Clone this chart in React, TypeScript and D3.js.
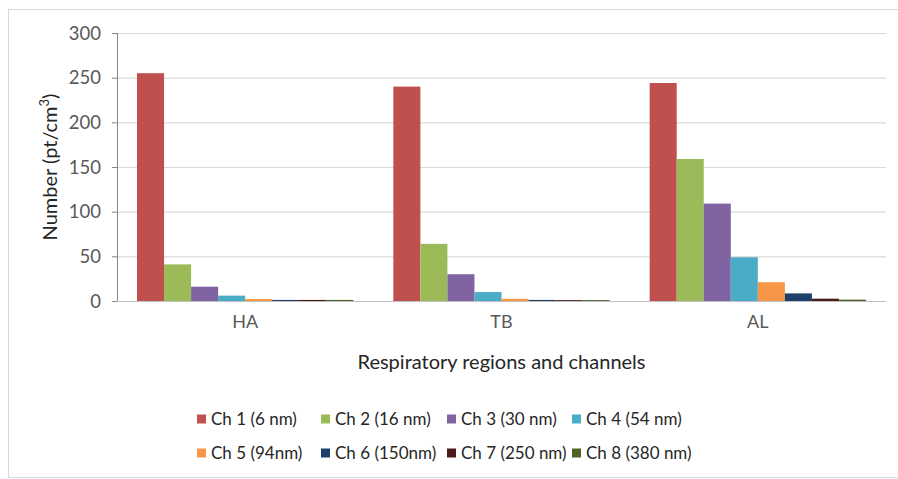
import React from "react";
import * as d3 from "d3";

const categories = ["HA", "TB", "AL"];
const seriesNames = [
  "Ch 1 (6 nm)",
  "Ch 2 (16 nm)",
  "Ch 3 (30 nm)",
  "Ch 4 (54 nm)",
  "Ch 5 (94nm)",
  "Ch 6 (150nm)",
  "Ch 7 (250 nm)",
  "Ch 8 (380 nm)",
];
const seriesColors = [
  "#C0504D",
  "#9BBB59",
  "#8064A2",
  "#4BACC6",
  "#F79646",
  "#1F3F6B",
  "#4A1A18",
  "#4F6228",
];
// values[series][category]
const ch1 = [255, 240, 244];
const ch2 = [41, 64, 159];
const ch3 = [16, 30, 109];
const ch4 = [6, 10, 49];
const ch5 = [2.2, 2.5, 21];
const ch6 = [1.2, 1.2, 8.5];
const ch7 = [1.2, 1.0, 2.6];
const ch8 = [1.2, 1.0, 1.5];
const seriesValues = [ch1, ch2, ch3, ch4, ch5, ch6, ch7, ch8];
const yTicks = [0, 50, 100, 150, 200, 250, 300];
const yTitle = "Number (pt/cm";
const xTitle = "Respiratory regions and channels";

const W = 898;
const H = 479;
const FONT = "Lato, 'Noto Sans', sans-serif";

export default function App() {
  const left = 117;
  const right = 886;
  const top = 33;
  const bottom = 301;

  const y = d3.scaleLinear().domain([0, 300]).range([bottom, top]);
  const x0 = d3
    .scaleBand<string>()
    .domain(categories)
    .range([left, right])
    .paddingInner(0.156)
    .paddingOuter(0.078);
  const x1 = d3
    .scaleBand<number>()
    .domain(d3.range(seriesNames.length))
    .range([0, x0.bandwidth()])
    .padding(0);

  const legendCols = [197, 321, 447, 572];
  const legendRows = [419, 453];

  return (
    <div style={{ position: "absolute", left: 0, top: 0 }}>
      <svg width={W} height={H} style={{ display: "block", background: "#fff" }}>
        <rect x={8.5} y={9.5} width={900} height={468} fill="#fff" stroke="#d9d9d9" />
        {yTicks.map((t) => (
          <g key={t}>
            {t > 0 && (
              <line x1={left} x2={right} y1={y(t) + 0.5} y2={y(t) + 0.5} stroke="#d9d9d9" strokeWidth={1.2} />
            )}
            <line x1={left - 5} x2={left} y1={y(t) + 0.5} y2={y(t) + 0.5} stroke="#868686" />
            <text
              x={101}
              y={y(t)}
              dy="0.36em"
              textAnchor="end"
              fontFamily={FONT}
              fontSize={18.5}
              fill="#595959"
            >
              {t}
            </text>
          </g>
        ))}
        {seriesValues.map((vals, si) =>
          vals.map((v, ci) => (
            <rect
              key={`${si}-${ci}`}
              x={(x0(categories[ci]) as number) + (x1(si) as number)}
              y={y(v)}
              width={x1.bandwidth()}
              height={y(0) - y(v)}
              fill={seriesColors[si]}
            />
          ))
        )}
        <line x1={left} x2={right} y1={bottom + 0.5} y2={bottom + 0.5} stroke="#bfbfbf" />
        <line x1={left + 0.5} x2={left + 0.5} y1={top} y2={bottom} stroke="#868686" />
        {categories.map((c) => (
          <text
            key={c}
            x={(x0(c) as number) + x0.bandwidth() / 2}
            y={322}
            dy="0.36em"
            textAnchor="middle"
            fontFamily={FONT}
            fontSize={18}
            fill="#595959"
          >
            {c}
          </text>
        ))}
        <text
          x={(left + right) / 2}
          y={362}
          dy="0.36em"
          textAnchor="middle"
          fontFamily={FONT}
          fontSize={20}
          fill="#262626"
        >
          {xTitle}
        </text>
        <text
          transform={`translate(50,167) rotate(-90)`}
          dy="0.36em"
          textAnchor="middle"
          fontFamily={FONT}
          fontSize={20}
          fill="#262626"
        >
          {yTitle}
          <tspan fontSize={13} dy="-0.6em">3</tspan>
          <tspan dy="0.4em">)</tspan>
        </text>
        {seriesNames.map((n, i) => {
          const cx = legendCols[i % 4];
          const cy = legendRows[Math.floor(i / 4)];
          return (
            <g key={n}>
              <rect x={cx} y={cy - 4.5} width={9} height={9} fill={seriesColors[i]} />
              <text
                x={cx + 14}
                y={cy}
                dy="0.36em"
                fontFamily={FONT}
                fontSize={17}
                fill="#262626"
              >
                {n}
              </text>
            </g>
          );
        })}
      </svg>
    </div>
  );
}
